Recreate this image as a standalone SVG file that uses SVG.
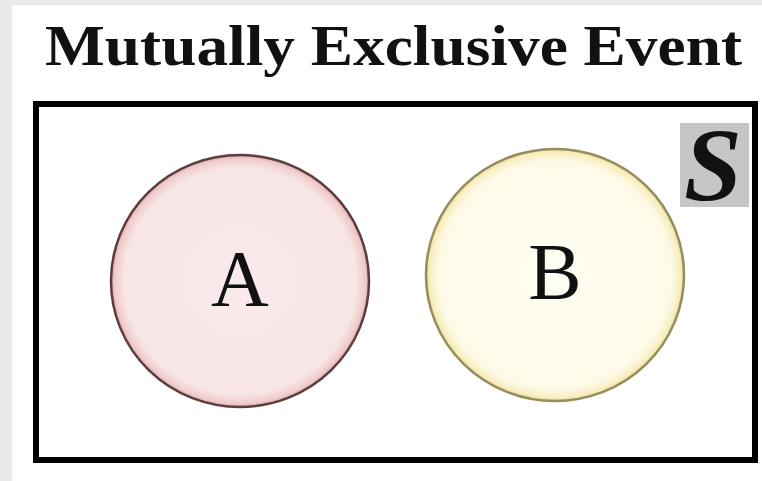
<svg xmlns="http://www.w3.org/2000/svg" width="762" height="481" viewBox="0 0 762 481">
<style>
.lbl{font-family:"Liberation Serif","Times New Roman",serif;fill:#111;}
</style>
<defs>
<radialGradient id="gA" cx="50%" cy="50%" r="50%">
<stop offset="0" stop-color="#faeaeb"/>
<stop offset="0.9" stop-color="#f8e5e6"/>
<stop offset="0.97" stop-color="#f0cccc"/>
<stop offset="1" stop-color="#dcaeae"/>
</radialGradient>
<radialGradient id="gB" cx="50%" cy="50%" r="50%">
<stop offset="0" stop-color="#fffdf2"/>
<stop offset="0.9" stop-color="#fefae8"/>
<stop offset="0.97" stop-color="#f8efc2"/>
<stop offset="1" stop-color="#e9de9e"/>
</radialGradient>
</defs>
<rect x="0" y="0" width="762" height="481" fill="#e9e9e9"/>
<rect x="12" y="5" width="750" height="476" fill="#ffffff"/>
<g id="title">
<text class="lbl" x="45" y="65" font-size="57" font-weight="bold" textLength="697" lengthAdjust="spacingAndGlyphs">Mutually Exclusive Event</text>
</g>
<g id="sample-space">
<rect x="36" y="104" width="719" height="356" fill="#ffffff" stroke="#000" stroke-width="6"/>
<rect x="680" y="123" width="69" height="84" fill="#c6c6c6"/>
<text class="lbl" x="713" y="200" font-size="104" font-weight="bold" font-style="italic" text-anchor="middle">S</text>
</g>
<g id="event-A">
<ellipse cx="240" cy="281" rx="129" ry="126" fill="url(#gA)" stroke="#5e3c3c" stroke-width="2.5"/>
<text class="lbl" x="240" y="306" font-size="80" text-anchor="middle">A</text>
</g>
<g id="event-B">
<ellipse cx="555" cy="275" rx="129" ry="126" fill="url(#gB)" stroke="#968c5c" stroke-width="2.5"/>
<text class="lbl" x="555" y="299" font-size="80" text-anchor="middle">B</text>
</g>
</svg>
